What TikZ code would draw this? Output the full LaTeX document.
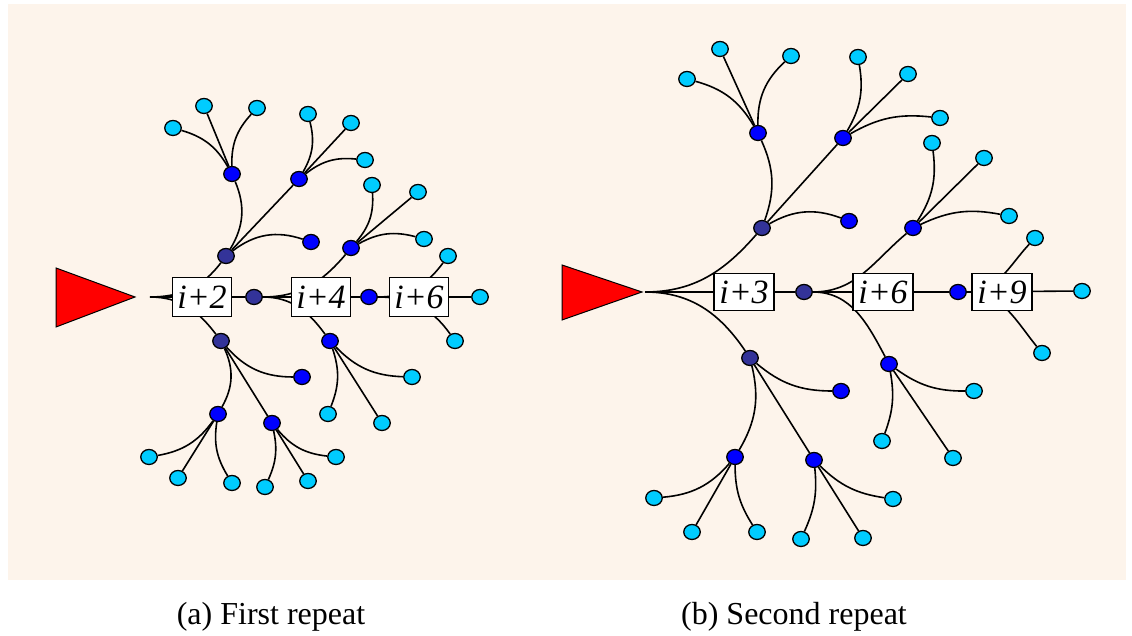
\documentclass[tikz,border=0pt]{standalone}
\usepackage{fontspec}
\setmainfont{Liberation Serif}
\usetikzlibrary{shapes.geometric}
\pgfdeclarelayer{back}
\pgfdeclarelayer{edges}
\pgfsetlayers{back,edges,main}
\definecolor{paper}{RGB}{253,244,235}
\definecolor{hubcol}{RGB}{51,51,153}
\definecolor{midcol}{RGB}{0,0,255}
\definecolor{leafcol}{RGB}{0,204,255}
\definecolor{rootcol}{RGB}{255,0,0}
\tikzset{
  link/.style={line width=1.6pt, draw=black},
  dotbase/.style={ellipse, draw=black, line width=1.3pt, minimum width=16.5pt, minimum height=15pt, inner sep=0pt},
  hubdot/.style={dotbase, fill=hubcol},
  middot/.style={dotbase, fill=midcol},
  leafdot/.style={dotbase, fill=leafcol},
  stagebox/.style={draw=black, fill=white, line width=1.5pt, minimum width=59pt, minimum height=39pt, inner sep=0pt, font=\fontsize{34}{34}\selectfont\itshape},
  caption/.style={font=\fontsize{32}{36}\selectfont, anchor=base},
  rootmark/.style={draw=black, fill=rootcol, line width=1pt, line join=miter},
}
\begin{document}
\begin{tikzpicture}[x=1pt,y=1pt]
\useasboundingbox (0,0) rectangle (1132,636);
\begin{pgfonlayer}{back}
  \fill[paper] (8,56) rectangle (1126,632);
\end{pgfonlayer}

% ---------------- (a) first repeat ----------------
\draw[rootmark] (56,368) -- (56,309) -- (135,339) -- cycle;
\coordinate (R) at (150,339);
\node[stagebox] (s2) at (202,339) {i+2};
\node[stagebox] (s4) at (321,339) {i+4};
\node[stagebox] (s6) at (419,339) {i+6};

\node[hubdot] (D1) at (226,380) {};
\node[hubdot] (D2) at (221,295) {};
\node[hubdot] (D3) at (254,339) {};

\node[middot] (B1) at (232,462) {};
\node[middot] (B2) at (299,457) {};
\node[middot] (B3) at (311,394) {};
\node[middot] (B4) at (351,388) {};
\node[middot] (B5) at (369,339) {};
\node[middot] (B6) at (302,259) {};
\node[middot] (B7) at (218,222) {};
\node[middot] (B8) at (272,213) {};
\node[middot] (B9) at (330,295) {};

\foreach \n/\x/\y in {a1/173/508, a2/204/530, a3/257/528,
                      a4/308/522, a5/351/513, a6/365/476,
                      a7/372/451, a8/418/444, a9/424/397,
                      a10/448/380, a11/480/339, a12/455/295,
                      a13/149/179, a14/178/158, a15/232/153,
                      a16/265/149, a17/308/155, a18/336/179,
                      a19/328/222, a20/382/213, a21/412/259}
  \node[leafdot] (\n) at (\x,\y) {};

\begin{pgfonlayer}{edges}
  \draw[link] (R) to[out=0,in=233] (D1);
  \draw[link] (R) to[out=0,in=127] (D2);
  \draw[link] (R) -- (D3);
  \draw[link] (D1) to[bend right=27] (B1);
  \draw[link] (D1) -- (B2);
  \draw[link] (D1) to[bend left=28] (B3);
  \draw[link] (B1) to[bend right=22] (a1);
  \draw[link] (B1) -- (a2);
  \draw[link] (B1) to[bend left=22] (a3);
  \draw[link] (B2) to[bend right=22] (a4);
  \draw[link] (B2) -- (a5);
  \draw[link] (B2) to[bend left=22] (a6);
  \draw[link] (D3) to[out=0,in=230] (B4);
  \draw[link] (D3) to[out=0,in=126] (B9);
  \draw[link] (D3) -- (B5);
  \draw[link] (B4) to[bend right=22] (a7);
  \draw[link] (B4) -- (a8);
  \draw[link] (B4) to[bend left=22] (a9);
  \draw[link] (B5) to[out=0,in=234] (a10);
  \draw[link] (B5) -- (a11);
  \draw[link] (B5) to[out=0,in=125] (a12);
  \draw[link] (D2) to[bend left=27] (B7);
  \draw[link] (D2) -- (B8);
  \draw[link] (D2) to[bend right=24] (B6);
  \draw[link] (B7) to[bend left=22] (a13);
  \draw[link] (B7) -- (a14);
  \draw[link] (B7) to[bend right=20] (a15);
  \draw[link] (B8) to[bend left=18] (a16);
  \draw[link] (B8) -- (a17);
  \draw[link] (B8) to[bend right=22] (a18);
  \draw[link] (B9) to[bend left=20] (a19);
  \draw[link] (B9) -- (a20);
  \draw[link] (B9) to[bend right=22] (a21);
\end{pgfonlayer}

% ---------------- (b) second repeat ----------------
\draw[rootmark] (562,371) -- (562,316) -- (642,344) -- cycle;
\coordinate (Rb) at (645,344);
\node[stagebox, minimum width=60pt, minimum height=37pt] (t3) at (744,344) {i+3};
\node[stagebox, minimum width=60pt, minimum height=37pt] (t6) at (883,344) {i+6};
\node[stagebox, minimum width=60pt, minimum height=37pt] (t9) at (1002,344) {i+9};

\node[hubdot] (E1) at (762,408) {};
\node[hubdot] (E2) at (750,278) {};
\node[hubdot] (E3) at (804,344) {};

\node[middot] (C1) at (758,503) {};
\node[middot] (C2) at (843,498) {};
\node[middot] (C3) at (849,415) {};
\node[middot] (C4) at (913,408) {};
\node[middot] (C5) at (958,344) {};
\node[middot] (C6) at (841,245) {};
\node[middot] (C7) at (735,179) {};
\node[middot] (C8) at (814,176) {};
\node[middot] (C9) at (889,272) {};

\foreach \n/\x/\y in {b1/687/557, b2/720/587, b3/791/580,
                      b4/858/579, b5/908/562, b6/940/518,
                      b7/932/493, b8/984/478, b9/1009/420,
                      b10/1035/398, b11/1082/345, b12/1042/283,
                      b13/654/138, b14/692/104, b15/757/104,
                      b16/801/97, b17/863/98, b18/893/137,
                      b19/882/195, b20/953/178, b21/974/245}
  \node[leafdot] (\n) at (\x,\y) {};

\begin{pgfonlayer}{edges}
  \draw[link] (Rb) to[out=0,in=229] (E1);
  \draw[link] (Rb) to[out=0,in=124] (E2);
  \draw[link] (Rb) -- (E3);
  \draw[link] (E1) to[bend right=22] (C1);
  \draw[link] (E1) -- (C2);
  \draw[link] (E1) to[bend left=25] (C3);
  \draw[link] (C1) to[bend right=22] (b1);
  \draw[link] (C1) -- (b2);
  \draw[link] (C1) to[bend left=24] (b3);
  \draw[link] (C2) to[bend right=20] (b4);
  \draw[link] (C2) -- (b5);
  \draw[link] (C2) to[bend left=18] (b6);
  \draw[link] (E3) to[out=0,in=220] (C4);
  \draw[link] (E3) to[out=0,in=118] (C9);
  \draw[link] (E3) -- (C5);
  \draw[link] (C4) to[bend right=20] (b7);
  \draw[link] (C4) -- (b8);
  \draw[link] (C4) to[bend left=18] (b9);
  \draw[link] (C5) to[out=0,in=227] (b10);
  \draw[link] (C5) -- (b11);
  \draw[link] (C5) to[out=0,in=129] (b12);
  \draw[link] (E2) to[bend left=22] (C7);
  \draw[link] (E2) -- (C8);
  \draw[link] (E2) to[bend right=20] (C6);
  \draw[link] (C7) to[bend left=22] (b13);
  \draw[link] (C7) -- (b14);
  \draw[link] (C7) to[bend right=16] (b15);
  \draw[link] (C8) to[bend left=15] (b16);
  \draw[link] (C8) -- (b17);
  \draw[link] (C8) to[bend right=18] (b18);
  \draw[link] (C9) to[bend left=15] (b19);
  \draw[link] (C9) -- (b20);
  \draw[link] (C9) to[bend right=18] (b21);
\end{pgfonlayer}

% captions
\node[caption] (capa) at (271,11) {(a) First repeat};
\node[caption] (capb) at (794,11) {(b) Second repeat};
\end{tikzpicture}
\end{document}
